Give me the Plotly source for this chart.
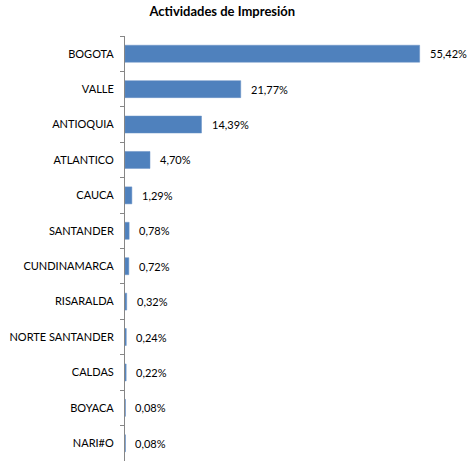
import plotly.graph_objects as go

categories = ["BOGOTA", "VALLE", "ANTIOQUIA", "ATLANTICO", "CAUCA", "SANTANDER",
              "CUNDINAMARCA", "RISARALDA", "NORTE SANTANDER", "CALDAS", "BOYACA", "NARI#O"]
values = [55.42, 21.77, 14.39, 4.70, 1.29, 0.78, 0.72, 0.32, 0.24, 0.22, 0.08, 0.08]
labels = [f"{v:.2f}%".replace(".", ",") for v in values]
title = "Actividades de Impresión"

font_family = "Lato, 'Open Sans', sans-serif"

fig = go.Figure()
fig.add_trace(go.Bar(
    x=values, y=categories, orientation="h",
    marker=dict(color="#4F81BD", line=dict(color="#6B93C6", width=0.5)),
    width=0.48, hoverinfo="skip",
))

for c, v, t in zip(categories, values, labels):
    fig.add_annotation(x=v, y=c, text=t, xanchor="left", yanchor="middle",
                       xshift=8, showarrow=False,
                       font=dict(family=font_family, size=11, color="#000000"))

fig.update_layout(
    width=467, height=461,
    margin=dict(l=125, r=23, t=36, b=0, autoexpand=False),
    paper_bgcolor="white", plot_bgcolor="white",
    showlegend=False,
    title=dict(text=f"<b>{title}</b>", x=0.476, xanchor="center", y=0.975, yanchor="middle",
               font=dict(family=font_family, size=13, color="#000000")),
    xaxis=dict(range=[0, 60], visible=False, fixedrange=True),
    yaxis=dict(categoryorder="array", categoryarray=categories, autorange="reversed",
               automargin=False, fixedrange=True,
               showline=True, linecolor="#868686", linewidth=1,
               ticks="outside", ticklen=4, tickcolor="#868686", tickson="boundaries",
               showgrid=False, zeroline=False,
               tickfont=dict(family=font_family, size=11, color="#000000"),
               ticklabelstandoff=8),
)

fig.write_html("out.html", config={"displayModeBar": False},
               post_script="document.body.style.margin='0';document.body.style.overflow='hidden';")
